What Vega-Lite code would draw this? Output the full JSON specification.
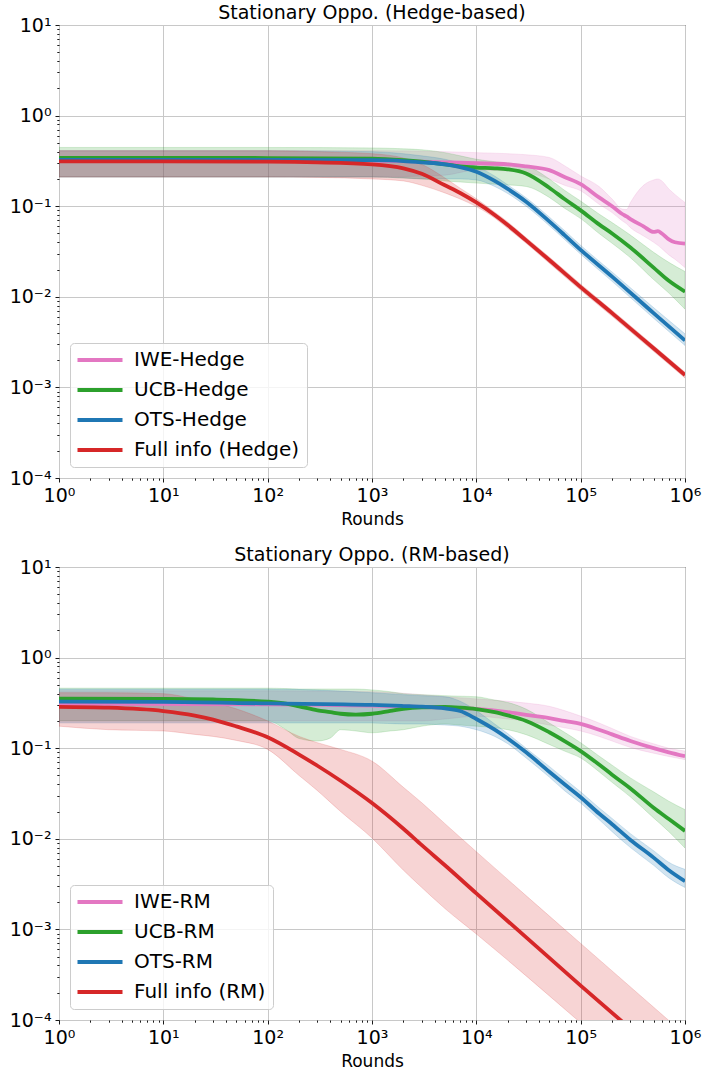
{
  "$schema": "https://vega.github.io/schema/vega-lite/v6.json",
  "padding": {"left": 8, "top": 3, "right": 10, "bottom": 0},
  "spacing": 17,
  "datasets": {
    "hedge": [
      {"s": "IWE-Hedge", "x": 1, "y": 0.32, "lo": 0.21, "hi": 0.41},
      {"s": "IWE-Hedge", "x": 10, "y": 0.32, "lo": 0.21, "hi": 0.41},
      {"s": "IWE-Hedge", "x": 100, "y": 0.32, "lo": 0.21, "hi": 0.41},
      {"s": "IWE-Hedge", "x": 1000, "y": 0.318, "lo": 0.21, "hi": 0.41},
      {"s": "IWE-Hedge", "x": 3000, "y": 0.31, "lo": 0.215, "hi": 0.405},
      {"s": "IWE-Hedge", "x": 5000, "y": 0.305, "lo": 0.22, "hi": 0.4},
      {"s": "IWE-Hedge", "x": 10000, "y": 0.298, "lo": 0.25, "hi": 0.39},
      {"s": "IWE-Hedge", "x": 20000, "y": 0.29, "lo": 0.245, "hi": 0.38},
      {"s": "IWE-Hedge", "x": 30000, "y": 0.275, "lo": 0.235, "hi": 0.37},
      {"s": "IWE-Hedge", "x": 50000, "y": 0.25, "lo": 0.2, "hi": 0.345},
      {"s": "IWE-Hedge", "x": 70000, "y": 0.21, "lo": 0.17, "hi": 0.28},
      {"s": "IWE-Hedge", "x": 100000, "y": 0.175, "lo": 0.148, "hi": 0.216},
      {"s": "IWE-Hedge", "x": 150000, "y": 0.125, "lo": 0.105, "hi": 0.165},
      {"s": "IWE-Hedge", "x": 200000, "y": 0.1, "lo": 0.085, "hi": 0.12},
      {"s": "IWE-Hedge", "x": 250000, "y": 0.082, "lo": 0.069, "hi": 0.093},
      {"s": "IWE-Hedge", "x": 275000, "y": 0.077, "lo": 0.064, "hi": 0.092},
      {"s": "IWE-Hedge", "x": 300000, "y": 0.072, "lo": 0.058, "hi": 0.11},
      {"s": "IWE-Hedge", "x": 400000, "y": 0.06, "lo": 0.047, "hi": 0.17},
      {"s": "IWE-Hedge", "x": 500000, "y": 0.052, "lo": 0.04, "hi": 0.195},
      {"s": "IWE-Hedge", "x": 550000, "y": 0.053, "lo": 0.037, "hi": 0.2},
      {"s": "IWE-Hedge", "x": 600000, "y": 0.05, "lo": 0.034, "hi": 0.19},
      {"s": "IWE-Hedge", "x": 700000, "y": 0.043, "lo": 0.029, "hi": 0.155},
      {"s": "IWE-Hedge", "x": 800000, "y": 0.04, "lo": 0.026, "hi": 0.135},
      {"s": "IWE-Hedge", "x": 1000000, "y": 0.0387, "lo": 0.021, "hi": 0.11},

      {"s": "UCB-Hedge", "x": 1, "y": 0.342, "lo": 0.21, "hi": 0.445},
      {"s": "UCB-Hedge", "x": 10, "y": 0.342, "lo": 0.21, "hi": 0.445},
      {"s": "UCB-Hedge", "x": 100, "y": 0.34, "lo": 0.21, "hi": 0.445},
      {"s": "UCB-Hedge", "x": 1000, "y": 0.335, "lo": 0.21, "hi": 0.44},
      {"s": "UCB-Hedge", "x": 2000, "y": 0.322, "lo": 0.205, "hi": 0.43},
      {"s": "UCB-Hedge", "x": 3000, "y": 0.31, "lo": 0.2, "hi": 0.42},
      {"s": "UCB-Hedge", "x": 5000, "y": 0.29, "lo": 0.19, "hi": 0.39},
      {"s": "UCB-Hedge", "x": 7000, "y": 0.275, "lo": 0.185, "hi": 0.36},
      {"s": "UCB-Hedge", "x": 10000, "y": 0.267, "lo": 0.18, "hi": 0.33},
      {"s": "UCB-Hedge", "x": 15000, "y": 0.262, "lo": 0.175, "hi": 0.31},
      {"s": "UCB-Hedge", "x": 20000, "y": 0.255, "lo": 0.172, "hi": 0.3},
      {"s": "UCB-Hedge", "x": 30000, "y": 0.23, "lo": 0.165, "hi": 0.28},
      {"s": "UCB-Hedge", "x": 50000, "y": 0.16, "lo": 0.125, "hi": 0.2},
      {"s": "UCB-Hedge", "x": 70000, "y": 0.12, "lo": 0.095, "hi": 0.15},
      {"s": "UCB-Hedge", "x": 100000, "y": 0.09, "lo": 0.073, "hi": 0.114},
      {"s": "UCB-Hedge", "x": 150000, "y": 0.063, "lo": 0.05, "hi": 0.082},
      {"s": "UCB-Hedge", "x": 200000, "y": 0.05, "lo": 0.039, "hi": 0.066},
      {"s": "UCB-Hedge", "x": 300000, "y": 0.035, "lo": 0.027, "hi": 0.048},
      {"s": "UCB-Hedge", "x": 500000, "y": 0.021, "lo": 0.0155, "hi": 0.031},
      {"s": "UCB-Hedge", "x": 700000, "y": 0.015, "lo": 0.011, "hi": 0.024},
      {"s": "UCB-Hedge", "x": 1000000, "y": 0.0114, "lo": 0.0073, "hi": 0.019},

      {"s": "OTS-Hedge", "x": 1, "y": 0.325, "lo": 0.21, "hi": 0.41},
      {"s": "OTS-Hedge", "x": 10, "y": 0.325, "lo": 0.21, "hi": 0.41},
      {"s": "OTS-Hedge", "x": 100, "y": 0.325, "lo": 0.21, "hi": 0.41},
      {"s": "OTS-Hedge", "x": 1000, "y": 0.322, "lo": 0.21, "hi": 0.4},
      {"s": "OTS-Hedge", "x": 2000, "y": 0.315, "lo": 0.205, "hi": 0.38},
      {"s": "OTS-Hedge", "x": 3000, "y": 0.305, "lo": 0.2, "hi": 0.36},
      {"s": "OTS-Hedge", "x": 5000, "y": 0.29, "lo": 0.2, "hi": 0.33},
      {"s": "OTS-Hedge", "x": 7000, "y": 0.27, "lo": 0.2, "hi": 0.3},
      {"s": "OTS-Hedge", "x": 10000, "y": 0.24, "lo": 0.195, "hi": 0.275},
      {"s": "OTS-Hedge", "x": 15000, "y": 0.19, "lo": 0.165, "hi": 0.215},
      {"s": "OTS-Hedge", "x": 20000, "y": 0.155, "lo": 0.138, "hi": 0.172},
      {"s": "OTS-Hedge", "x": 30000, "y": 0.112, "lo": 0.1, "hi": 0.124},
      {"s": "OTS-Hedge", "x": 50000, "y": 0.068, "lo": 0.061, "hi": 0.076},
      {"s": "OTS-Hedge", "x": 70000, "y": 0.048, "lo": 0.043, "hi": 0.054},
      {"s": "OTS-Hedge", "x": 100000, "y": 0.033, "lo": 0.0295, "hi": 0.037},
      {"s": "OTS-Hedge", "x": 200000, "y": 0.0167, "lo": 0.0148, "hi": 0.0188},
      {"s": "OTS-Hedge", "x": 500000, "y": 0.0066, "lo": 0.0058, "hi": 0.0076},
      {"s": "OTS-Hedge", "x": 1000000, "y": 0.0033, "lo": 0.0029, "hi": 0.0039},

      {"s": "Full info (Hedge)", "x": 1, "y": 0.312, "lo": 0.21, "hi": 0.41},
      {"s": "Full info (Hedge)", "x": 10, "y": 0.312, "lo": 0.21, "hi": 0.41},
      {"s": "Full info (Hedge)", "x": 100, "y": 0.31, "lo": 0.21, "hi": 0.41},
      {"s": "Full info (Hedge)", "x": 300, "y": 0.305, "lo": 0.208, "hi": 0.4},
      {"s": "Full info (Hedge)", "x": 1000, "y": 0.29, "lo": 0.2, "hi": 0.38},
      {"s": "Full info (Hedge)", "x": 2000, "y": 0.262, "lo": 0.19, "hi": 0.34},
      {"s": "Full info (Hedge)", "x": 3000, "y": 0.228, "lo": 0.17, "hi": 0.29},
      {"s": "Full info (Hedge)", "x": 5000, "y": 0.17, "lo": 0.14, "hi": 0.205},
      {"s": "Full info (Hedge)", "x": 7000, "y": 0.14, "lo": 0.12, "hi": 0.158},
      {"s": "Full info (Hedge)", "x": 10000, "y": 0.11, "lo": 0.099, "hi": 0.121},
      {"s": "Full info (Hedge)", "x": 15000, "y": 0.08, "lo": 0.074, "hi": 0.086},
      {"s": "Full info (Hedge)", "x": 20000, "y": 0.062, "lo": 0.057, "hi": 0.067},
      {"s": "Full info (Hedge)", "x": 30000, "y": 0.042, "lo": 0.039, "hi": 0.045},
      {"s": "Full info (Hedge)", "x": 50000, "y": 0.0255, "lo": 0.0235, "hi": 0.0275},
      {"s": "Full info (Hedge)", "x": 100000, "y": 0.0128, "lo": 0.0118, "hi": 0.0138},
      {"s": "Full info (Hedge)", "x": 200000, "y": 0.0066, "lo": 0.0061, "hi": 0.0071},
      {"s": "Full info (Hedge)", "x": 500000, "y": 0.0027, "lo": 0.0025, "hi": 0.0029},
      {"s": "Full info (Hedge)", "x": 1000000, "y": 0.00137, "lo": 0.00127, "hi": 0.00147}
    ],
    "rm": [
      {"s": "IWE-RM", "x": 1, "y": 0.31, "lo": 0.2, "hi": 0.43},
      {"s": "IWE-RM", "x": 100, "y": 0.305, "lo": 0.2, "hi": 0.43},
      {"s": "IWE-RM", "x": 1000, "y": 0.295, "lo": 0.2, "hi": 0.42},
      {"s": "IWE-RM", "x": 3000, "y": 0.285, "lo": 0.2, "hi": 0.39},
      {"s": "IWE-RM", "x": 5000, "y": 0.28, "lo": 0.21, "hi": 0.37},
      {"s": "IWE-RM", "x": 10000, "y": 0.272, "lo": 0.225, "hi": 0.35},
      {"s": "IWE-RM", "x": 20000, "y": 0.25, "lo": 0.21, "hi": 0.33},
      {"s": "IWE-RM", "x": 30000, "y": 0.233, "lo": 0.2, "hi": 0.315},
      {"s": "IWE-RM", "x": 50000, "y": 0.215, "lo": 0.18, "hi": 0.29},
      {"s": "IWE-RM", "x": 70000, "y": 0.2, "lo": 0.168, "hi": 0.26},
      {"s": "IWE-RM", "x": 100000, "y": 0.186, "lo": 0.155, "hi": 0.226},
      {"s": "IWE-RM", "x": 150000, "y": 0.16, "lo": 0.135, "hi": 0.19},
      {"s": "IWE-RM", "x": 200000, "y": 0.142, "lo": 0.12, "hi": 0.165},
      {"s": "IWE-RM", "x": 300000, "y": 0.12, "lo": 0.102, "hi": 0.135},
      {"s": "IWE-RM", "x": 500000, "y": 0.1, "lo": 0.088, "hi": 0.112},
      {"s": "IWE-RM", "x": 700000, "y": 0.09, "lo": 0.081, "hi": 0.1},
      {"s": "IWE-RM", "x": 1000000, "y": 0.0815, "lo": 0.0748, "hi": 0.093},

      {"s": "UCB-RM", "x": 1, "y": 0.352, "lo": 0.2, "hi": 0.46},
      {"s": "UCB-RM", "x": 10, "y": 0.35, "lo": 0.2, "hi": 0.46},
      {"s": "UCB-RM", "x": 30, "y": 0.345, "lo": 0.2, "hi": 0.46},
      {"s": "UCB-RM", "x": 100, "y": 0.326, "lo": 0.2, "hi": 0.46},
      {"s": "UCB-RM", "x": 150, "y": 0.31, "lo": 0.16, "hi": 0.455},
      {"s": "UCB-RM", "x": 200, "y": 0.29, "lo": 0.128, "hi": 0.45},
      {"s": "UCB-RM", "x": 300, "y": 0.262, "lo": 0.12, "hi": 0.45},
      {"s": "UCB-RM", "x": 400, "y": 0.25, "lo": 0.13, "hi": 0.45},
      {"s": "UCB-RM", "x": 500, "y": 0.24, "lo": 0.16, "hi": 0.45},
      {"s": "UCB-RM", "x": 700, "y": 0.235, "lo": 0.155, "hi": 0.45},
      {"s": "UCB-RM", "x": 1000, "y": 0.24, "lo": 0.148, "hi": 0.44},
      {"s": "UCB-RM", "x": 1500, "y": 0.258, "lo": 0.155, "hi": 0.42},
      {"s": "UCB-RM", "x": 2000, "y": 0.272, "lo": 0.16, "hi": 0.4},
      {"s": "UCB-RM", "x": 3000, "y": 0.282, "lo": 0.175, "hi": 0.39},
      {"s": "UCB-RM", "x": 5000, "y": 0.285, "lo": 0.185, "hi": 0.38},
      {"s": "UCB-RM", "x": 7000, "y": 0.28, "lo": 0.18, "hi": 0.375},
      {"s": "UCB-RM", "x": 10000, "y": 0.27, "lo": 0.175, "hi": 0.37},
      {"s": "UCB-RM", "x": 15000, "y": 0.25, "lo": 0.168, "hi": 0.34},
      {"s": "UCB-RM", "x": 20000, "y": 0.23, "lo": 0.16, "hi": 0.32},
      {"s": "UCB-RM", "x": 30000, "y": 0.2, "lo": 0.141, "hi": 0.27},
      {"s": "UCB-RM", "x": 50000, "y": 0.15, "lo": 0.11, "hi": 0.19},
      {"s": "UCB-RM", "x": 70000, "y": 0.12, "lo": 0.093, "hi": 0.15},
      {"s": "UCB-RM", "x": 100000, "y": 0.093, "lo": 0.078, "hi": 0.115},
      {"s": "UCB-RM", "x": 150000, "y": 0.066, "lo": 0.055, "hi": 0.082},
      {"s": "UCB-RM", "x": 200000, "y": 0.051, "lo": 0.042, "hi": 0.065},
      {"s": "UCB-RM", "x": 300000, "y": 0.036, "lo": 0.029, "hi": 0.047},
      {"s": "UCB-RM", "x": 500000, "y": 0.022, "lo": 0.017, "hi": 0.033},
      {"s": "UCB-RM", "x": 700000, "y": 0.0165, "lo": 0.012, "hi": 0.026},
      {"s": "UCB-RM", "x": 1000000, "y": 0.0122, "lo": 0.0079, "hi": 0.021},

      {"s": "OTS-RM", "x": 1, "y": 0.326, "lo": 0.19, "hi": 0.45},
      {"s": "OTS-RM", "x": 10, "y": 0.325, "lo": 0.19, "hi": 0.45},
      {"s": "OTS-RM", "x": 100, "y": 0.312, "lo": 0.19, "hi": 0.45},
      {"s": "OTS-RM", "x": 1000, "y": 0.3, "lo": 0.19, "hi": 0.41},
      {"s": "OTS-RM", "x": 2000, "y": 0.292, "lo": 0.185, "hi": 0.39},
      {"s": "OTS-RM", "x": 3000, "y": 0.287, "lo": 0.185, "hi": 0.38},
      {"s": "OTS-RM", "x": 5000, "y": 0.275, "lo": 0.18, "hi": 0.37},
      {"s": "OTS-RM", "x": 7000, "y": 0.257, "lo": 0.175, "hi": 0.33},
      {"s": "OTS-RM", "x": 10000, "y": 0.21, "lo": 0.16, "hi": 0.26},
      {"s": "OTS-RM", "x": 15000, "y": 0.16, "lo": 0.135, "hi": 0.185},
      {"s": "OTS-RM", "x": 20000, "y": 0.128, "lo": 0.112, "hi": 0.145},
      {"s": "OTS-RM", "x": 30000, "y": 0.09, "lo": 0.078, "hi": 0.1},
      {"s": "OTS-RM", "x": 50000, "y": 0.055, "lo": 0.048, "hi": 0.063},
      {"s": "OTS-RM", "x": 70000, "y": 0.04, "lo": 0.034, "hi": 0.046},
      {"s": "OTS-RM", "x": 100000, "y": 0.0288, "lo": 0.0248, "hi": 0.033},
      {"s": "OTS-RM", "x": 150000, "y": 0.019, "lo": 0.0163, "hi": 0.022},
      {"s": "OTS-RM", "x": 200000, "y": 0.0145, "lo": 0.012, "hi": 0.0168},
      {"s": "OTS-RM", "x": 300000, "y": 0.0097, "lo": 0.008, "hi": 0.0114},
      {"s": "OTS-RM", "x": 500000, "y": 0.0062, "lo": 0.0051, "hi": 0.0074},
      {"s": "OTS-RM", "x": 700000, "y": 0.0045, "lo": 0.0037, "hi": 0.0055},
      {"s": "OTS-RM", "x": 1000000, "y": 0.0034, "lo": 0.0029, "hi": 0.0046},

      {"s": "Full info (RM)", "x": 1, "y": 0.286, "lo": 0.175, "hi": 0.41},
      {"s": "Full info (RM)", "x": 3, "y": 0.28, "lo": 0.16, "hi": 0.41},
      {"s": "Full info (RM)", "x": 10, "y": 0.257, "lo": 0.155, "hi": 0.4},
      {"s": "Full info (RM)", "x": 20, "y": 0.229, "lo": 0.142, "hi": 0.35},
      {"s": "Full info (RM)", "x": 30, "y": 0.207, "lo": 0.135, "hi": 0.32},
      {"s": "Full info (RM)", "x": 50, "y": 0.174, "lo": 0.122, "hi": 0.272},
      {"s": "Full info (RM)", "x": 100, "y": 0.132, "lo": 0.097, "hi": 0.2},
      {"s": "Full info (RM)", "x": 200, "y": 0.085, "lo": 0.05, "hi": 0.135},
      {"s": "Full info (RM)", "x": 300, "y": 0.064, "lo": 0.034, "hi": 0.115},
      {"s": "Full info (RM)", "x": 500, "y": 0.0437, "lo": 0.02, "hi": 0.097},
      {"s": "Full info (RM)", "x": 1000, "y": 0.0248, "lo": 0.0102, "hi": 0.072},
      {"s": "Full info (RM)", "x": 2000, "y": 0.0129, "lo": 0.0045, "hi": 0.037},
      {"s": "Full info (RM)", "x": 3000, "y": 0.0085, "lo": 0.0029, "hi": 0.025},
      {"s": "Full info (RM)", "x": 5000, "y": 0.0051, "lo": 0.0017, "hi": 0.0147},
      {"s": "Full info (RM)", "x": 10000, "y": 0.0025, "lo": 0.00089, "hi": 0.0072},
      {"s": "Full info (RM)", "x": 100000, "y": 0.00024, "lo": 0.000093, "hi": 0.0007},
      {"s": "Full info (RM)", "x": 1000000, "y": 0.000024, "lo": 0.0000093, "hi": 0.000069}
    ]
  },
  "vconcat": [
    {
      "title": "Stationary Oppo. (Hedge-based)",
      "width": 626,
      "height": 453,
      "data": {"name": "hedge"},
      "encoding": {
        "x": {
          "field": "x",
          "type": "quantitative",
          "scale": {"type": "log", "domain": [1, 1000000], "nice": false},
          "axis": {
            "title": "Rounds",
            "values": [1,2,3,4,5,6,7,8,9,10,20,30,40,50,60,70,80,90,100,200,300,400,500,600,700,800,900,1000,2000,3000,4000,5000,6000,7000,8000,9000,10000,20000,30000,40000,50000,60000,70000,80000,90000,100000,200000,300000,400000,500000,600000,700000,800000,900000,1000000],
            "labelExpr": "datum.value == 1 ? '10⁰' : datum.value == 10 ? '10¹' : datum.value == 100 ? '10²' : datum.value == 1000 ? '10³' : datum.value == 10000 ? '10⁴' : datum.value == 100000 ? '10⁵' : datum.value == 1000000 ? '10⁶' : ''",
            "gridOpacity": {"condition": {"test": "indexof([1,10,100,1000,10000,100000,1000000], datum.value) >= 0", "value": 1}, "value": 0},
            "tickSize": {"condition": {"test": "indexof([1,10,100,1000,10000,100000,1000000], datum.value) >= 0", "value": 4}, "value": 2.2}
          }
        },
        "y": {
          "field": "y",
          "type": "quantitative",
          "scale": {"type": "log", "domain": [0.0001, 10], "nice": false},
          "axis": {
            "title": null,
            "values": [0.0001,0.0002,0.0003,0.0004,0.0005,0.0006,0.0007,0.0008,0.0009,0.001,0.002,0.003,0.004,0.005,0.006,0.007,0.008,0.009,0.01,0.02,0.03,0.04,0.05,0.06,0.07,0.08,0.09,0.1,0.2,0.3,0.4,0.5,0.6,0.7,0.8,0.9,1,2,3,4,5,6,7,8,9,10],
            "labelExpr": "datum.value == 10 ? '10¹' : datum.value == 1 ? '10⁰' : datum.value == 0.1 ? '10⁻¹' : datum.value == 0.01 ? '10⁻²' : datum.value == 0.001 ? '10⁻³' : datum.value == 0.0001 ? '10⁻⁴' : ''",
            "gridOpacity": {"condition": {"test": "indexof([0.0001,0.001,0.01,0.1,1,10], datum.value) >= 0", "value": 1}, "value": 0},
            "tickSize": {"condition": {"test": "indexof([0.0001,0.001,0.01,0.1,1,10], datum.value) >= 0", "value": 4}, "value": 2.2}
          }
        }
      },
      "layer": [
        {
          "mark": {"type": "area", "interpolate": "monotone", "clip": true, "fillOpacity": 0.2, "strokeOpacity": 0.22, "strokeWidth": 0.8},
          "encoding": {
            "y": {"field": "lo", "type": "quantitative"},
            "y2": {"field": "hi"},
            "fill": {"field": "s", "type": "nominal", "legend": null,
              "scale": {"range": ["#d62728", "#e377c2", "#1f77b4", "#2ca02c"]}},
            "stroke": {"field": "s", "type": "nominal", "legend": null,
              "scale": {"range": ["#d62728", "#e377c2", "#1f77b4", "#2ca02c"]}}
          }
        },
        {
          "mark": {"type": "line", "interpolate": "monotone", "clip": true, "strokeWidth": 3.8},
          "encoding": {
            "color": {"field": "s", "type": "nominal", "sort": null,
              "scale": {"domain": ["IWE-Hedge", "UCB-Hedge", "OTS-Hedge", "Full info (Hedge)"], "range": ["#e377c2", "#2ca02c", "#1f77b4", "#d62728"]},
              "legend": {"title": null, "orient": "bottom-left", "offset": 11}}
          }
        }
      ]
    },
    {
      "title": "Stationary Oppo. (RM-based)",
      "width": 626,
      "height": 453,
      "data": {"name": "rm"},
      "encoding": {
        "x": {
          "field": "x",
          "type": "quantitative",
          "scale": {"type": "log", "domain": [1, 1000000], "nice": false},
          "axis": {
            "title": "Rounds",
            "values": [1,2,3,4,5,6,7,8,9,10,20,30,40,50,60,70,80,90,100,200,300,400,500,600,700,800,900,1000,2000,3000,4000,5000,6000,7000,8000,9000,10000,20000,30000,40000,50000,60000,70000,80000,90000,100000,200000,300000,400000,500000,600000,700000,800000,900000,1000000],
            "labelExpr": "datum.value == 1 ? '10⁰' : datum.value == 10 ? '10¹' : datum.value == 100 ? '10²' : datum.value == 1000 ? '10³' : datum.value == 10000 ? '10⁴' : datum.value == 100000 ? '10⁵' : datum.value == 1000000 ? '10⁶' : ''",
            "gridOpacity": {"condition": {"test": "indexof([1,10,100,1000,10000,100000,1000000], datum.value) >= 0", "value": 1}, "value": 0},
            "tickSize": {"condition": {"test": "indexof([1,10,100,1000,10000,100000,1000000], datum.value) >= 0", "value": 4}, "value": 2.2}
          }
        },
        "y": {
          "field": "y",
          "type": "quantitative",
          "scale": {"type": "log", "domain": [0.0001, 10], "nice": false},
          "axis": {
            "title": null,
            "values": [0.0001,0.0002,0.0003,0.0004,0.0005,0.0006,0.0007,0.0008,0.0009,0.001,0.002,0.003,0.004,0.005,0.006,0.007,0.008,0.009,0.01,0.02,0.03,0.04,0.05,0.06,0.07,0.08,0.09,0.1,0.2,0.3,0.4,0.5,0.6,0.7,0.8,0.9,1,2,3,4,5,6,7,8,9,10],
            "labelExpr": "datum.value == 10 ? '10¹' : datum.value == 1 ? '10⁰' : datum.value == 0.1 ? '10⁻¹' : datum.value == 0.01 ? '10⁻²' : datum.value == 0.001 ? '10⁻³' : datum.value == 0.0001 ? '10⁻⁴' : ''",
            "gridOpacity": {"condition": {"test": "indexof([0.0001,0.001,0.01,0.1,1,10], datum.value) >= 0", "value": 1}, "value": 0},
            "tickSize": {"condition": {"test": "indexof([0.0001,0.001,0.01,0.1,1,10], datum.value) >= 0", "value": 4}, "value": 2.2}
          }
        }
      },
      "layer": [
        {
          "mark": {"type": "area", "interpolate": "monotone", "clip": true, "fillOpacity": 0.2, "strokeOpacity": 0.22, "strokeWidth": 0.8},
          "encoding": {
            "y": {"field": "lo", "type": "quantitative"},
            "y2": {"field": "hi"},
            "fill": {"field": "s", "type": "nominal", "legend": null,
              "scale": {"range": ["#d62728", "#e377c2", "#1f77b4", "#2ca02c"]}},
            "stroke": {"field": "s", "type": "nominal", "legend": null,
              "scale": {"range": ["#d62728", "#e377c2", "#1f77b4", "#2ca02c"]}}
          }
        },
        {
          "mark": {"type": "line", "interpolate": "monotone", "clip": true, "strokeWidth": 3.8},
          "encoding": {
            "color": {"field": "s", "type": "nominal", "sort": null,
              "scale": {"domain": ["IWE-RM", "UCB-RM", "OTS-RM", "Full info (RM)"], "range": ["#e377c2", "#2ca02c", "#1f77b4", "#d62728"]},
              "legend": {"title": null, "orient": "bottom-left", "offset": 11}}
          }
        }
      ]
    }
  ],
  "resolve": {
    "scale": {"color": "independent", "fill": "independent", "stroke": "independent"},
    "legend": {"color": "independent"}
  },
  "config": {
    "font": "DejaVu Sans",
    "view": {"stroke": "black", "strokeWidth": 1},
    "title": {"fontSize": 19, "fontWeight": "normal", "color": "black", "anchor": "middle", "offset": -7},
    "axis": {
      "domain": false,
      "grid": true,
      "gridColor": "#c8c8c8",
      "gridWidth": 1,
      "tickColor": "black",
      "tickWidth": 0.9,
      "labelFont": "DejaVu Sans",
      "labelFontSize": 19,
      "labelColor": "black",
      "labelPadding": 4,
      "labelOverlap": false,
      "labelFlush": false,
      "labelBound": false,
      "titleFont": "DejaVu Sans",
      "titleFontSize": 17,
      "titleFontWeight": "normal",
      "titleColor": "black",
      "titlePadding": 6
    },
    "legend": {
      "labelFont": "DejaVu Sans",
      "labelFontSize": 20,
      "labelColor": "black",
      "labelLimit": 400,
      "padding": 7,
      "fillColor": "rgba(255,255,255,0.8)",
      "strokeColor": "#cccccc",
      "cornerRadius": 4,
      "symbolType": "M-3,0H3",
      "symbolSize": 225,
      "symbolStrokeWidth": 4,
      "symbolOffset": 13,
      "labelOffset": 24,
      "rowPadding": 10
    }
  }
}
